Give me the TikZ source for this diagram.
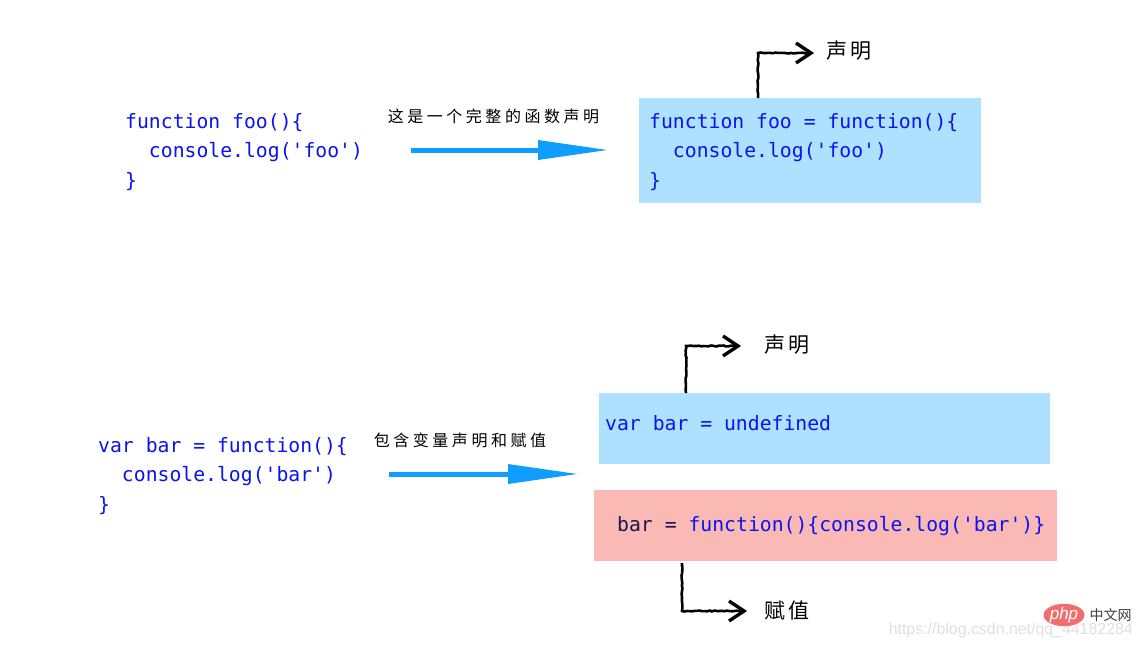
\documentclass[tikz,border=0pt]{standalone}
\usepackage{fontspec}
\setmonofont{DejaVu Sans Mono}
\setsansfont{Liberation Sans}
\newfontfamily\cjk{Noto Sans CJK SC}
\newfontfamily\cjksmall[LetterSpace=22]{Noto Sans CJK SC}
\newfontfamily\cjkbig[LetterSpace=10]{Noto Sans CJK SC}
\usetikzlibrary{arrows.meta,decorations.pathmorphing,shapes.geometric}
\definecolor{codeblue}{HTML}{0A14F0}
\definecolor{codedark}{HTML}{1A1450}
\definecolor{boxblue}{HTML}{AEE0FF}
\definecolor{boxpink}{HTML}{FAB9B4}
\definecolor{arrowblue}{HTML}{0F9DFF}
\definecolor{phpred}{HTML}{F26D6D}
\tikzset{
  x=1pt,y=-1pt,
  code/.style={inner sep=0pt,anchor=west,align=left,text=codeblue,font=\ttfamily\fontsize{19.75}{29.4}\selectfont},
  boxfill/.style={inner sep=0pt,anchor=north west,outer sep=0pt},
  bigarrow/.style={draw=arrowblue,line width=5pt,-{Triangle[length=71pt,width=18.5pt,fill=arrowblue]}},
  hand/.style={draw=black,line width=2.6pt,decorate,decoration={random steps,segment length=2.5pt,amplitude=.5pt}},
  handhead/.style={draw=black,line width=3.4pt,line join=miter},
  note/.style={inner sep=0pt,font=\cjksmall\fontsize{16}{16}\selectfont},
  notebig/.style={inner sep=0pt,font=\cjkbig\fontsize{21}{21}\selectfont}
}
\begin{document}
\begin{tikzpicture}
\useasboundingbox (0,0) rectangle (1142,648);
\fill[white] (0,0) rectangle (1142,648);
% boxes
\node[boxfill,fill=boxblue,minimum width=342pt,minimum height=105pt] (b1) at (639,98) {};
\node[boxfill,fill=boxblue,minimum width=451pt,minimum height=71pt] (b2) at (599,393) {};
\node[boxfill,fill=boxpink,minimum width=463pt,minimum height=71pt] (b3) at (594,490) {};
% code
\node[code] (c1) at (125,152) {function foo()\{\\\ \ console.log('foo')\\\}};
\node[code] (c2) at (649,152) {function foo = function()\{\\\ \ console.log('foo')\\\}};
\node[code] (c3) at (98,476) {var bar = function()\{\\\ \ console.log('bar')\\\}};
\node[code] (c4) at (605,423) {var bar = undefined};
\node[code] (c5) at (617,526) {\textcolor{codedark}{bar =} function()\{console.log('bar')\}};
% big arrows
\coordinate (a1s) at (411,150); \coordinate (a1e) at (609,150);
\coordinate (a2s) at (389,474); \coordinate (a2e) at (579,474);
\draw[bigarrow] (a1s) -- (a1e);
\draw[bigarrow] (a2s) -- (a2e);
\node[note] (n1) at (493.5,116) {这是一个完整的函数声明};
\node[note] (n2) at (460,440) {包含变量声明和赋值};
% hand arrows
\node[notebig] (d1) at (849,51) {声明};
\node[notebig] (d2) at (787,345) {声明};
\node[notebig] (d3) at (787,611) {赋值};
\coordinate (h1s) at (758,98); \coordinate (h1c) at (758,53); \coordinate (h1e) at (811,53);
\coordinate (h2s) at (686,393); \coordinate (h2c) at (686,346); \coordinate (h2e) at (738,346);
\coordinate (h3s) at (682,563); \coordinate (h3c) at (682,611); \coordinate (h3e) at (744,611);
\draw[hand] (h1s) -- (h1c) -- (h1e);
\draw[hand] (h2s) -- (h2c) -- (h2e);
\draw[hand] (h3s) -- (h3c) -- (h3e);
\draw[handhead] ([shift={(-15,-10)}]h1e) -- (h1e) -- ([shift={(-15,10)}]h1e);
\draw[handhead] ([shift={(-15,-10)}]h2e) -- (h2e) -- ([shift={(-15,10)}]h2e);
\draw[handhead] ([shift={(-15,-10)}]h3e) -- (h3e) -- ([shift={(-15,10)}]h3e);
% watermark
\node[inner sep=0pt,anchor=east,text=black!12,font=\sffamily\fontsize{15.9}{16}\selectfont] (w1) at (1133,630) {https://blog.csdn.net/qq\_44182284};
\node[ellipse,inner sep=0pt,minimum width=41pt,minimum height=20pt,fill=phpred,text=white,font=\sffamily\itshape\fontsize{17}{17}\selectfont] (w2) at (1064,615) {php};
\node[inner sep=0pt,text=black!75,font=\cjk\fontsize{14}{14}\selectfont] (w3) at (1110.5,615) {中文网};
\end{tikzpicture}
\end{document}
